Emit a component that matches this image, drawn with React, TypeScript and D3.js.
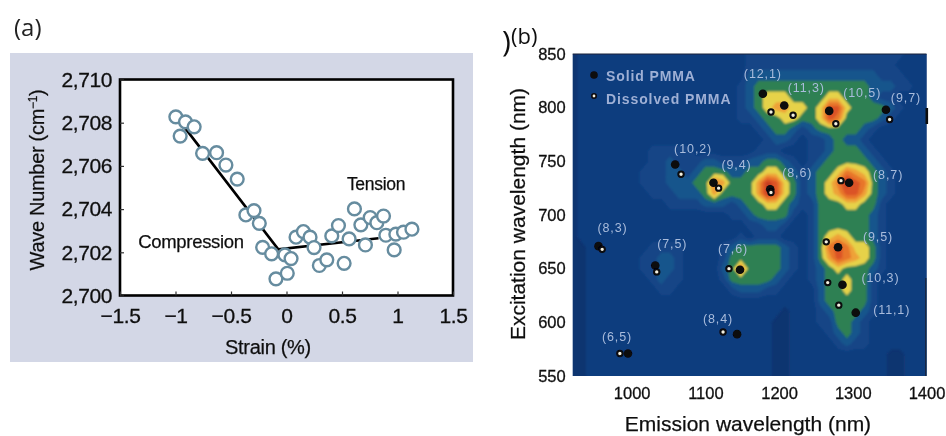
import React, { useEffect, useRef } from "react";
import * as d3 from "d3";

// Panel (a): Raman 2D band position against strain
const strain = [
  -0.997, -0.91, -0.832, -0.958, -0.756, -0.63, -0.546, -0.444, -0.366, -0.293, -0.245, -0.215, -0.134,
  -0.095, 0.007, -0.014, 0.041, 0.086, 0.152, 0.212, 0.248, 0.296, 0.363, 0.408, 0.468, 0.519, 0.564,
  0.612, 0.67, 0.711, 0.754, 0.814, 0.874, 0.895, 0.97, 0.985, 1.054, 1.13,
];
const waveNumber = [
  2708.27, 2708.04, 2707.81, 2707.38, 2706.58, 2706.61, 2706.04, 2705.39, 2703.73, 2703.93, 2703.34,
  2702.23, 2701.93, 2700.77, 2701.03, 2701.88, 2701.71, 2702.7, 2702.96, 2702.7, 2702.22, 2701.39,
  2701.65, 2702.76, 2703.24, 2701.49, 2702.62, 2704.01, 2703.27, 2702.34, 2703.61, 2703.37, 2703.68,
  2702.79, 2702.11, 2702.84, 2702.93, 2703.07,
];
const fitStrain = [-0.946, -0.074, 0.829];
const fitWave = [2707.97, 2702.14, 2702.65];
const strainTicks = [-1.5, -1, -0.5, 0, 0.5, 1, 1.5];
const waveTicks = [2700, 2702, 2704, 2706, 2708, 2710];

// Panel (b): photoluminescence map, levels read by eye
// one string per excitation row (850 down to 550, step 10), one digit per emission column (920 up, step 12)
const heatRows = [
  "0111111111 1111111111 2222222222 2222222211 1",
  "0111111111 1111111111 2222222222 2222222111 1",
  "0111111111 1111111111 3333333333 3333322211 1",
  "0111111111 1111111112 3444444444 4444333221 1",
  "0111111111 1111111112 3455544445 5444322111 1",
  "0111111111 1111111112 3456655458 8544443211 1",
  "0111111111 1111111112 2344554458 7444432111 1",
  "0111111111 1111111111 1234432344 4443211111 1",
  "0111111111 1111111111 1123321223 4332111111 1",
  "0111111112 2222111111 1222111223 4443211111 1",
  "0111111112 2322233222 3344321234 4444321111 1",
  "0111111122 2332344433 4455432344 5765432111 1",
  "0111111122 2333447644 4698542345 7987432111 1",
  "0111111112 2233346444 4698542345 6886432111 1",
  "0111111111 1222233323 4455432244 4554421111 1",
  "0111111111 1111111122 3444421244 4444321111 1",
  "0111111111 1111111111 2233211244 4444321111 1",
  "0111111111 1111111112 1222111245 6544321111 1",
  "0011111112 2221111234 4444321247 8755421111 1",
  "0011111122 3321111244 4444321246 8765421111 1",
  "0011111122 3321111347 4444321234 5444321111 1",
  "0011111112 3221111244 4443211234 4544211111 1",
  "0011111111 2211111123 3322111134 4544211111 1",
  "0011111111 1111111111 1111111134 4444211111 1",
  "0011111111 1111111111 1111011123 4443211111 1",
  "0011111111 1111111111 1110011122 4432111111 1",
  "0011111111 1111111111 1110011112 3432111111 1",
  "0011111111 1111111111 1110011111 2322111111 1",
  "0011111111 1111111111 1110011111 1111110011 1",
  "0011111111 1111111111 1110011111 1111110011 1",
  "0011111111 1111111111 1110011111 1111110011 1",
];
const heatColors = ["#0e3470", "#0f3c7e", "#124486", "#17548c", "#2f8052", "#e6d24a", "#eea238", "#e8762c", "#db5228", "#c43c20"];

const chirality = ["(12,1)", "(11,3)", "(10,5)", "(9,7)", "(10,2)", "(9,4)", "(8,6)", "(8,7)", "(8,3)", "(7,5)", "(7,6)", "(9,5)", "(10,3)", "(11,1)", "(8,4)", "(6,5)"];
const solidEm = [1178, 1207, 1268, 1345, 1059, 1111, 1188, 1295, 955, 1032, 1147, 1280, 1286, 1304, 1143, 995];
const solidEx = [813, 802, 797, 798, 747, 730, 724, 730, 671, 653, 649, 670, 635, 609, 589, 571];
const dissolvedEm = [1189, 1219, 1277, 1350, 1067, 1118, 1189, 1284, 960, 1034, 1132, 1264, 1266, 1281, 1124, 984];
const dissolvedEx = [796, 793, 785, 789, 738, 725, 721, 732, 668, 647, 650, 675, 637, 616, 591, 571];
const emTicks = [1000, 1100, 1200, 1300, 1400];
const exTicks = [550, 600, 650, 700, 750, 800, 850];

// label placement relative to the solid dot
const labelOffsets = [[0, -20], [22, -18], [33, -18], [20, -12], [18, -16], [23, -18], [27, -17], [39, -8], [14, -19], [17, -22], [-7, -21], [40, -11], [38, -7], [36, -3], [-19, -16], [-11, -17]];

const SANS = "'Liberation Sans', Arial, sans-serif";

const App = () => {
  const svgRef = useRef<SVGSVGElement>(null);

  useEffect(() => {
    const svg = d3.select(svgRef.current);
    svg.selectAll("*").remove();

    const defs = svg.append("defs");
    defs.append("filter").attr("id", "soft").attr("x", "-2%").attr("y", "-2%").attr("width", "104%").attr("height", "104%")
      .append("feGaussianBlur").attr("stdDeviation", 0.55);
    defs.append("filter").attr("id", "heatBlur").attr("x", "-5%").attr("y", "-5%").attr("width", "110%").attr("height", "110%")
      .append("feGaussianBlur").attr("stdDeviation", 1.3);
    defs.append("clipPath").attr("id", "mapClip").append("rect")
      .attr("x", 572.7).attr("y", 54).attr("width", 353.8).attr("height", 322);

    const root = svg.append("g").attr("filter", "url(#soft)");

    // ---- panel (a) ----
    root.append("rect").attr("x", 10).attr("y", 53).attr("width", 463).attr("height", 309).attr("fill", "#d3d7e6");
    root.append("text").attr("x", 14).attr("y", 36).attr("font-family", "'Open Sans', sans-serif").attr("font-size", 24).attr("fill", "#222").text("(a)");

    const x = d3.scaleLinear().domain([-1.5, 1.5]).range([120, 453]);
    const y = d3.scaleLinear().domain([2700, 2710]).range([295.5, 79.5]);

    root.append("rect").attr("x", 120).attr("y", 79.5).attr("width", 333).attr("height", 216)
      .attr("fill", "#fff").attr("stroke", "#000").attr("stroke-width", 2.6);

    const axisA = root.append("g").attr("transform", "translate(0,295.5)")
      .call(d3.axisBottom(x).tickValues(strainTicks).tickFormat(d3.format("~g")).tickSize(-4).tickPadding(13));
    const axisAy = root.append("g").attr("transform", "translate(120,0)")
      .call(d3.axisLeft(y).tickValues(waveTicks).tickFormat(d3.format(",")).tickSize(-4).tickPadding(8));
    [axisA, axisAy].forEach((g) => {
      g.select(".domain").remove();
      g.selectAll("line").attr("stroke", "#333").attr("stroke-width", 1.2);
      g.selectAll("text").attr("font-family", SANS).attr("font-size", 21).attr("letter-spacing", -0.4)
        .attr("fill", "#111").attr("stroke", "#111").attr("stroke-width", 0.3);
    });

    const fitLine = d3.line<number>().x((d) => x(d)).y((_, i) => y(fitWave[i]));
    root.append("path").attr("d", fitLine(fitStrain)).attr("fill", "none").attr("stroke", "#000").attr("stroke-width", 2.6);

    root.append("g").selectAll("circle").data(strain).join("circle")
      .attr("cx", (d) => x(d)).attr("cy", (_, i) => y(waveNumber[i])).attr("r", 6.4)
      .attr("fill", "#fff").attr("stroke", "#668c9f").attr("stroke-width", 2.4);

    const noteA = [
      { text: "Compression", x: 191, y: 248, size: 18.5 },
      { text: "Tension", x: 376, y: 190, size: 17.5 },
      { text: "Strain (%)", x: 268, y: 354, size: 20 },
    ];
    root.append("g").selectAll("text").data(noteA).join("text")
      .attr("x", (d) => d.x).attr("y", (d) => d.y).attr("font-size", (d) => d.size)
      .attr("text-anchor", "middle").attr("font-family", SANS).attr("fill", "#111").attr("stroke", "#111").attr("stroke-width", 0.25).attr("letter-spacing", -0.3)
      .text((d) => d.text);

    const waveTitle = root.append("text").attr("transform", "translate(44,180) rotate(-90)")
      .attr("text-anchor", "middle").attr("font-family", SANS).attr("font-size", 20).attr("letter-spacing", -0.3).attr("fill", "#111").attr("stroke", "#111").attr("stroke-width", 0.25);
    waveTitle.append("tspan").text("Wave Number (cm");
    waveTitle.append("tspan").attr("font-size", 12).attr("dy", -7).text("−1");
    waveTitle.append("tspan").attr("dy", 7).text(")");

    // ---- panel (b) ----
    root.append("text").attr("x", 511).attr("y", 44).attr("font-family", "'Open Sans', sans-serif").attr("font-size", 22).attr("fill", "#111").text("(b)");
    root.append("text").attr("x", 502).attr("y", 52).attr("font-family", "'Open Sans', sans-serif").attr("font-size", 30).attr("fill", "#111").text(")");

    const em = d3.scaleLinear().domain([920, 1400]).range([572.7, 926.5]);
    const ex = d3.scaleLinear().domain([550, 850]).range([376, 54]);

    root.append("rect").attr("x", 572.7).attr("y", 54).attr("width", 353.8).attr("height", 322).attr("fill", heatColors[0]);

    const cleaned = heatRows.map((r) => r.replace(/ /g, ""));
    const nCols = cleaned[0].length;
    const values = cleaned.join("").split("").map(Number);
    const contours = d3.contours().size([nCols, cleaned.length]).thresholds(d3.range(0.5, 9, 1))(values);
    const projection = d3.geoTransform({
      point(px, py) {
        this.stream.point(em(920 + 12 * (px - 0.5)), ex(850 - 10 * (py - 0.5)));
      },
    });
    const contourPath = d3.geoPath(projection);
    root.append("g").attr("clip-path", "url(#mapClip)")
      .append("g").attr("filter", "url(#heatBlur)")
      .selectAll("path").data(contours).join("path")
      .attr("d", contourPath as any)
      .attr("fill", (d) => heatColors[Math.ceil(d.value)]);

    // plot edge marks
    root.append("line").attr("x1", 572.7).attr("x2", 926.5).attr("y1", 54).attr("y2", 54).attr("stroke", "#1a2238").attr("stroke-width", 1);
    root.append("line").attr("x1", 925.8).attr("x2", 925.8).attr("y1", 278).attr("y2", 376).attr("stroke", "#1a2238").attr("stroke-width", 1.2);
    root.append("line").attr("x1", 926.8).attr("x2", 926.8).attr("y1", 108).attr("y2", 124).attr("stroke", "#111").attr("stroke-width", 2.6);

    const dots = root.append("g");
    dots.selectAll("circle.solid").data(solidEm).join("circle").attr("class", "solid")
      .attr("cx", (d) => em(d)).attr("cy", (_, i) => ex(solidEx[i])).attr("r", 4.3).attr("fill", "#07070c");
    dots.selectAll("circle.dissolved").data(dissolvedEm).join("circle").attr("class", "dissolved")
      .attr("cx", (d) => em(d)).attr("cy", (_, i) => ex(dissolvedEx[i])).attr("r", 2.7)
      .attr("fill", "#f4f1e0").attr("stroke", "#07070c").attr("stroke-width", 2);

    root.append("g").selectAll("text").data(chirality).join("text")
      .attr("x", (_, i) => em(solidEm[i]) + labelOffsets[i][0])
      .attr("y", (_, i) => ex(solidEx[i]) + labelOffsets[i][1] + 4.5)
      .attr("text-anchor", "middle").attr("font-family", SANS).attr("font-size", 12.5)
      .attr("letter-spacing", 0.9).attr("fill", "#a9bcdc").text((d) => d);

    const legend = root.append("g").attr("font-family", SANS).attr("font-size", 14).attr("font-weight", "bold").attr("letter-spacing", 0.9).attr("fill", "#9fb0d5");
    legend.append("circle").attr("cx", 594).attr("cy", 75).attr("r", 3.8).attr("fill", "#07070c");
    legend.append("text").attr("x", 606).attr("y", 81).text("Solid PMMA");
    legend.append("circle").attr("cx", 594).attr("cy", 96).attr("r", 2.2).attr("fill", "#f4f1e0").attr("stroke", "#07070c").attr("stroke-width", 1.6);
    legend.append("text").attr("x", 606).attr("y", 104).text("Dissolved PMMA");

    const axisBx = root.append("g").attr("transform", "translate(0,376)")
      .call(d3.axisBottom(em).tickValues(emTicks).tickFormat(d3.format("d")).tickSize(0).tickPadding(11));
    const axisBy = root.append("g").attr("transform", "translate(572.7,0)")
      .call(d3.axisLeft(ex).tickValues(exTicks).tickFormat(d3.format("d")).tickSize(0).tickPadding(7));
    [axisBx, axisBy].forEach((g) => {
      g.select(".domain").remove();
      g.selectAll("text").attr("font-family", SANS).attr("font-size", 16.5).attr("fill", "#111").attr("stroke", "#111").attr("stroke-width", 0.3);
    });

    root.append("text").attr("x", 748).attr("y", 431).attr("text-anchor", "middle").attr("font-family", SANS)
      .attr("font-size", 21).attr("fill", "#111").attr("stroke", "#111").attr("stroke-width", 0.25).text("Emission wavelength (nm)");
    root.append("text").attr("transform", "translate(525,214) rotate(-90)").attr("text-anchor", "middle").attr("font-family", SANS)
      .attr("font-size", 21).attr("fill", "#111").attr("stroke", "#111").attr("stroke-width", 0.25).text("Excitation wavelength (nm)");
  }, []);

  return <svg ref={svgRef} width={946} height={436} style={{ position: "absolute", left: 0, top: 0, background: "#fff" }} />;
};

export default App;
